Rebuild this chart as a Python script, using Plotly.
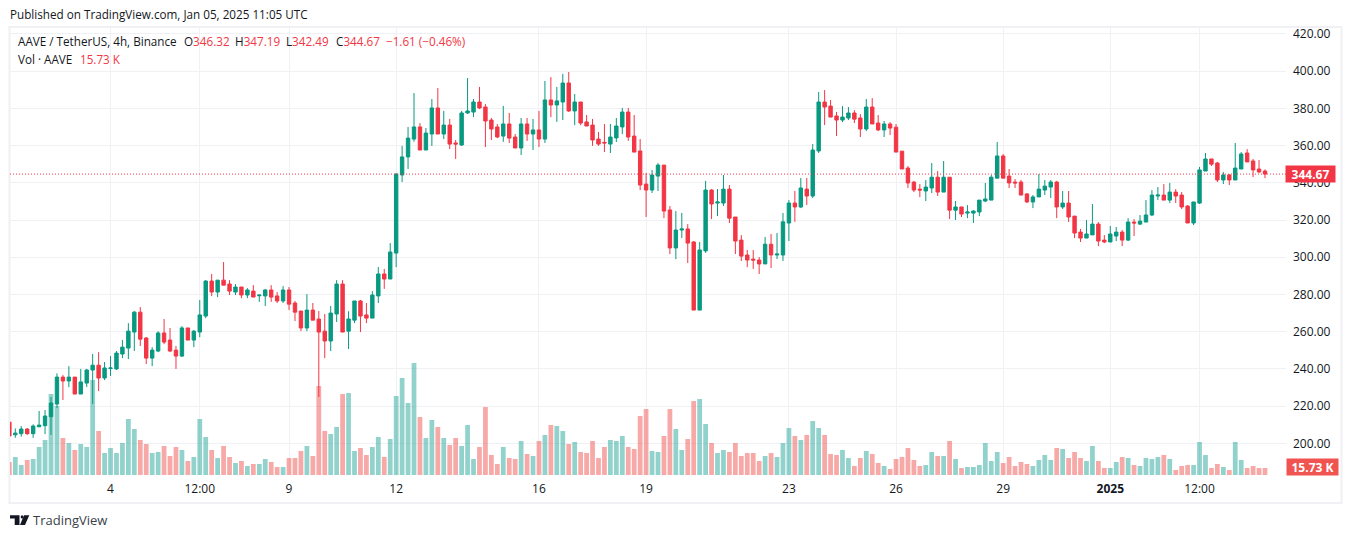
import plotly.graph_objects as go

OPEN = [
211.4,204.6,205.2,207.7,205.2,208.9,209.5,214.3,221.1,235.6,
233.5,235.6,226.5,232.4,239.4,242,235.1,240.2,240,248,
251.2,259.8,270.5,256.6,245.8,249.6,259.3,255.5,250.1,246.9,
262,255.5,259.8,268.4,287.2,281.3,287.7,285.6,281.3,284,
279.7,281.8,279.3,279.2,282.4,279.2,276.5,282.4,275.4,271.1,
262,271.6,266.8,260.3,255,269.5,285.6,260.3,266.2,276.5,
269,267.3,279.2,291,288.3,302.25,344.2,353.9,363.5,370,
357.6,366.2,380.2,366.2,371,361.4,360.3,377.5,378,383.4,
380.7,373.7,370,365.1,371.6,364.6,358.7,371.6,366.2,368.4,
363.5,384.5,381.8,383.4,393.6,378.6,383.4,372.7,371,363.5,
361.7,360.8,364.1,370,378,365.1,357.1,339.3,336.1,343.6,
349.5,325.4,305,314.6,315.2,308.2,271.6,303.4,336.1,329.1,
329.1,336.6,321.6,309.2,301.2,299,298.5,296.4,307,301.2,
301.2,318.4,329.1,327,336.6,332.9,357.1,383.4,381.2,375.9,
373.7,374.8,377.5,374.8,368.9,380.7,372.1,368.4,371.6,369.9,
357,347.9,340.4,336.6,335.6,337.2,343,335,343,325.3,
327,323.7,323.7,324.3,330.2,330.7,342.5,354.4,343.6,340.4,
340.4,334,329.7,332.4,336.1,337.7,340.4,327,329.1,322.1,
313.5,310.3,312,317.8,309.2,308.2,311.4,313.5,309.2,318.9,
317.8,318.9,322.7,332.9,333.4,330.7,335,333.4,327.5,318.4,
329.1,346.3,352.8,350.6,341.5,344.2,341.5,347.4,356,351.7,
347.4,346.32]
CLOSE = [
204,205.5,207.7,205.2,209.3,209.8,214.7,221.7,235.6,233.5,
235.6,226.5,233,239.4,242,235.1,240.5,240.5,248.5,251.7,
260.3,270.5,256,245.8,250.1,259.3,254.4,249.6,246.9,262,
255.5,260.3,269,287.2,281.3,287.7,285,281.8,284,279.7,
282.4,278.6,279.7,282.4,278.6,276.5,282.4,274.8,270.5,262,
271.6,266.2,259.8,255,270,285.6,259.8,266.8,276.5,268.4,
267.3,279.7,291,288.3,302.8,344.7,353.9,364,370,357.6,
366.7,380.2,366.2,371,360.8,360.8,377.5,378.6,383.4,380.2,
373.2,368.9,364.6,371.6,364,358.7,371.6,366.2,368.4,363.5,
384.5,381.8,384,393.6,378.6,383.4,372.1,370.5,363,360.8,
361.4,364.6,370.5,378,364.6,356.5,338.8,336.1,344.2,349.5,
324.8,305,314.6,315.2,307.6,271.6,303.9,336.1,328.6,329.7,
336.6,321,308.7,300.6,298.5,298.5,296.4,307,301.2,301.7,
319,329.1,327,337.2,332.9,357.6,383.4,380.7,375.3,373.7,
375.3,377.5,374.2,368.9,380.7,371.6,368.4,371.6,369.4,356.5,
347.4,339.9,336.1,336.1,337.7,343,335,343,325.3,327,
323.2,324.3,324.8,330.7,331.3,343,354.4,342.5,339.9,339.9,
333.4,329.7,332.4,336.6,338.2,340.4,327,329.1,321.6,313,
310.3,312.5,317.8,308.7,308.2,312.5,313.5,309.2,318.9,318.4,
319.4,322.7,333.4,333.4,330.7,335,332.9,327,318.4,329.7,
346.9,352.8,350,341.5,344.2,341.5,347.9,355.5,351.2,346.9,
345.8,344.67]
HIGH = [
212,208,209.3,208.2,210.2,217.4,217.9,224.9,237.6,236.7,
241.5,235.6,240,240,248,249,243.7,246.9,249.6,255.5,
264.6,271.1,273.2,257.1,251.7,260.3,266.8,262,252.3,263,
262,260.9,277,287.7,291,287.7,297.4,287.7,285.6,284,
283.4,285,279.7,283,285,281.3,284.5,284,276.5,271.1,
280.2,275.4,271.1,269.5,273.8,287.7,287.7,271,276.5,277,
275.4,281.8,294.7,293.7,307.6,345.2,359.8,370,388.2,372.1,
369.4,385,390.9,378.6,374.3,363,378.6,396.3,385,391.5,
382.3,374.8,371.6,381.3,377.5,366.2,374.8,374.8,374.3,378.6,
394.7,396.8,391.5,398.5,399.5,387.7,383.4,376.4,374.3,367.3,
371.6,371.6,374.8,380.2,380.2,376.4,363.5,345.3,346.9,350.6,
349.5,327.5,324.8,323.8,317.8,308.7,308.2,341,336.6,336.6,
344.2,338.8,321.6,311.9,303.9,303.9,300.1,310.9,312.5,313,
323.8,330.7,335.6,342.6,342.6,360.8,388.8,389.8,384.5,378,
381.2,380.7,379,376.9,385,385.5,376.4,373.2,372.6,371.6,
357,349,340.9,339.3,341.5,350.6,346.3,351.7,343,330.2,
327,328,325.3,330.7,339.9,344.2,361.9,355.4,347.4,342,
341.5,334.5,333.4,344.7,341.5,341.5,341,335.6,335.6,322.1,
315.2,320,328.6,318.9,311.9,316.8,316.2,314.6,321,320.5,
322.7,330.7,336.1,337.7,339.3,339.9,336.6,335,328,329.7,
348.5,356,352.8,351.2,345.8,344.7,361.4,356.5,358.1,352.8,
352.2,347.19]
LOW = [
203.5,203,203.6,204.5,203,208.9,205,204.5,219,223.3,
230.2,226.5,226.5,230.3,221.1,228.1,234,236.2,239.4,245.8,
245.3,249.6,252.3,242.6,241.5,249,253.3,249,240,246.4,
255.5,251.7,257,267.3,279.1,278.6,285,279.7,279.7,278,
278,278.6,276,273.8,276,275.4,275.4,271.6,265.7,260.3,
260.3,266.2,224.9,245.8,249.6,265.2,259.8,250.7,264.6,259.8,
264.6,267.3,275.4,283,288.3,294.7,340.4,347.4,362,357.6,
357.6,359.8,366.2,363.5,358.1,352.8,359.8,377,375.3,379.6,
359.2,363,364,362,361.4,358.7,354.9,362.5,357.6,359.2,
361.4,375.3,372.7,373.7,378,371,371,370.5,359.8,359.8,
356.5,356,361.9,366.2,362.5,356.5,336.1,321.6,334.5,335.6,
321,301.7,299,310.3,296.9,271.6,271.6,302.3,320.5,322.1,
327.5,318.4,301.7,298,294.7,293.7,291,296.4,294.2,299,
298,308.7,319,326.4,328,331.8,356,371,375.3,365.1,
372.6,373.7,372.1,364.6,367.8,371.6,367.8,364.6,365.6,356.5,
347.4,337.2,335,332.3,330.2,334.5,332.9,335,320.5,320,
321.6,321,318.4,322.1,329.6,330.7,342.5,342.5,337.2,337.2,
333.4,329.1,326.4,332.4,333.4,331.8,321,325.9,318.9,310.3,
308.2,310.3,312,306,307.6,308.2,308.7,306,308.7,311.4,
317.3,318.9,322.1,330.7,330.7,329.1,329.1,325.9,318.4,317.3,
328.6,346.3,349,340.4,339.3,338.8,341.5,347.4,351.2,343.1,
345.3,342.49]
VOLUME_K = [
29.2,40.4,22.5,33.7,36,62.9,78.7,182,155,83.2,
71.9,56.2,69.7,62.9,213.5,98.9,49.4,60.7,49.4,71.9,
125.8,103.4,78.7,69.7,49.4,51.7,65.2,42.7,62.9,56.2,
31.5,40.4,125.8,85.4,56.2,38.2,65.2,40.4,27,31.5,
20.2,24.7,24.7,36,29.2,18,18,38.2,38.2,53.9,
65.2,42.7,200,98.9,92.1,107.9,182,184.3,53.9,60.7,
44.9,62.9,85.4,40.4,80.9,177.5,218,161.8,251.7,130.3,
83.2,123.6,107.9,83.2,67.4,83.2,65.2,112.4,36,62.9,
152.8,44.9,24.7,62.9,38.2,36,76.4,47.2,42.7,76.4,
89.9,112.4,110.1,98.9,69.7,74.2,51.7,49.4,76.4,38.2,
62.9,78.7,76.4,87.6,62.9,58.4,132.6,148.3,53.9,51.7,
87.6,148.3,103.4,56.2,80.9,166.3,170.8,114.6,71.9,49.4,
56.2,51.7,71.9,42.7,49.4,49.4,31.5,42.7,49.4,40.4,
71.9,105.6,87.6,78.7,89.9,121.3,105.6,89.9,47.2,44.9,
56.2,38.2,20.2,38.2,53.9,47.2,27,20.2,13.5,36,
40.4,60.7,33.7,20.2,22.5,51.7,42.7,42.7,76.4,36,
15.7,18,18,22.5,71.9,31.5,51.7,27,40.4,20.2,
29.2,24.7,20.2,33.7,44.9,33.7,60.7,58.4,38.2,51.7,
38.2,31.5,65.2,31.5,15.7,15.7,29.2,40.4,38.2,22.5,
20.2,38.2,36,40.4,44.9,36,11.2,20.2,22.5,22.5,
74.2,44.9,15.7,24.7,18,11.2,74.2,33.7,15.7,20.2,
15.7,15.73]
TICK_POS = [17, 32, 47, 65, 89, 107, 131, 149, 167, 185, 200]
TICK_TEXT = ["4", "12:00", "9", "12", "16", "19", "23", "26", "29", "<b>2025</b>", "12:00"]

W, H = 1352, 538
L, R, T, B = 10, 1286, 27, 475
GREEN, RED = "#089981", "#F23645"
GRID = "#f0f1f4"
FRAME = "#f0f0f5"
TEXT = "#131722"
FONT = "Open Sans"

xs = list(range(len(OPEN)))
vol_colors = ["rgba(38,166,154,0.5)" if c >= o else "rgba(239,83,80,0.5)" for o, c in zip(OPEN, CLOSE)]

fig = go.Figure()
fig.add_trace(go.Bar(x=xs, y=VOLUME_K, marker=dict(color=vol_colors, line_width=0), yaxis="y", width=0.8))
fig.add_trace(go.Candlestick(
    x=xs, open=OPEN, high=HIGH, low=LOW, close=CLOSE, yaxis="y2", whiskerwidth=0,
    increasing=dict(line=dict(color=GREEN, width=1), fillcolor=GREEN),
    decreasing=dict(line=dict(color=RED, width=1), fillcolor=RED),
))

# paper coordinates are relative to the plot area
def px(x): return (x - L) / (R - L)
def py(y): return (B - y) / (B - T)

shapes = [
    dict(type="rect", xref="paper", yref="paper", x0=px(9.5), x1=px(1341.5), y0=py(503), y1=py(27),
         line=dict(color=FRAME, width=2), layer="below"),
    dict(type="line", xref="paper", yref="y2", x0=0, x1=1, y0=CLOSE[-1], y1=CLOSE[-1],
         line=dict(color=RED, width=1, dash="1px,2px")),
    # TradingView logo
    dict(type="path", xref="paper", yref="paper", fillcolor="#131722", line_width=0,
         path=f"M {px(10)} {py(515.3)} L {px(19.5)} {py(515.3)} L {px(19.5)} {py(525)} L {px(14.7)} {py(525)} L {px(14.7)} {py(518.6)} L {px(10)} {py(518.6)} Z"),
    dict(type="circle", xref="paper", yref="paper", fillcolor="#131722", line_width=0,
         x0=px(20.7), x1=px(23.4), y0=py(518.5), y1=py(515.3)),
    dict(type="path", xref="paper", yref="paper", fillcolor="#131722", line_width=0,
         path=f"M {px(24)} {py(515.3)} L {px(29.3)} {py(515.3)} L {px(25)} {py(525)} L {px(20)} {py(525)} Z"),
]

def ann(x, y, text, size=11.7, color=TEXT, anchor="left"):
    return dict(x=px(x), y=py(y), xref="paper", yref="paper", text=text, showarrow=False,
                xanchor=anchor, yanchor="middle", align="left", xshift=0, borderpad=0, borderwidth=0,
                font=dict(family=FONT, size=size, color=color))

def red(s): return f'<span style="color:{RED}">{s}</span>'

annotations = [
    ann(10, 14.5, "Published on TradingView.com, Jan 05, 2025 11:05 UTC"),
    ann(18, 41.5, "AAVE / TetherUS, 4h, Binance"),
    ann(184, 41.5, f"O{red('346.32')}"),
    ann(235, 41.5, f"H{red('347.19')}"),
    ann(286, 41.5, f"L{red('342.49')}"),
    ann(336, 41.5, f"C{red('344.67')}"),
    ann(386, 41.5, red("−1.61 (−0.46%)")),
    ann(18, 58.5, "Vol · AAVE"),
    ann(80, 58.5, red("15.73 K")),
    ann(33, 520, "TradingView", size=13, color="#3a3f4b"),
    dict(x=px(1310.5), y=CLOSE[-1], xref="paper", yref="y2", text="<b>344.67</b>", showarrow=False,
         font=dict(family=FONT, size=12, color="white"), bgcolor=RED, width=49, height=16,
         borderpad=0, xanchor="center", yanchor="middle"),
    dict(x=px(1312.5), y=py(467), xref="paper", yref="paper", text="<b>15.73 K</b>", showarrow=False,
         font=dict(family=FONT, size=12, color="white"), bgcolor="#F05350", width=51, height=16,
         borderpad=0, xanchor="center", yanchor="middle"),
]

fig.update_layout(
    width=W, height=H, autosize=False, showlegend=False, hovermode=False,
    paper_bgcolor="white", plot_bgcolor="white",
    margin=dict(l=L, r=W - R, t=T, b=H - B, pad=0, autoexpand=False),
    boxgap=0.18, bargap=0.18,
    font=dict(family=FONT, size=12, color=TEXT),
    xaxis=dict(range=[0.109, 214.53], tickmode="array", tickvals=TICK_POS, ticktext=TICK_TEXT,
               showgrid=True, gridcolor=GRID, gridwidth=1, zeroline=False, showline=False,
               ticks="", ticklabelstandoff=5, rangeslider=dict(visible=False),
               tickfont=dict(family=FONT, size=12, color=TEXT)),
    yaxis=dict(range=[0, 1006.7], visible=False, fixedrange=True),
    yaxis2=dict(range=[183.0, 423.7], overlaying="y", side="right", anchor="x",
                tickmode="linear", tick0=200, dtick=20, tickformat=".2f",
                showgrid=True, gridcolor=GRID, gridwidth=1, zeroline=False, showline=False,
                ticks="", ticklabelstandoff=6, tickfont=dict(family=FONT, size=12, color=TEXT)),
    shapes=shapes, annotations=annotations,
)

fig.write_html("out.html", include_plotlyjs=True, config=dict(displayModeBar=False),
               post_script="document.body.style.margin='0';document.documentElement.style.overflow='hidden';")
